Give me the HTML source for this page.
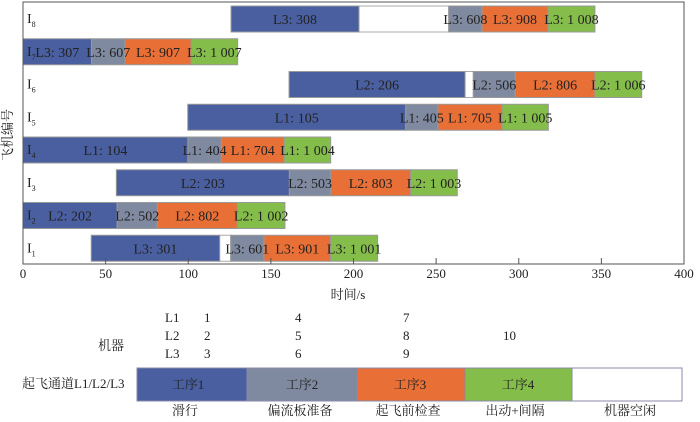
<!DOCTYPE html>
<html><head><meta charset="utf-8"><style>
body{margin:0;background:#fff;width:700px;height:417px;overflow:hidden}
svg text{font-family:"Liberation Serif","Noto Serif CJK SC",serif;fill:#222}
</style></head><body>
<svg id="c" width="700" height="417" font-family="'Liberation Serif','Noto Serif CJK SC',serif"></svg>
<script>
const aircraft=["I1","I2","I3","I4","I5","I6","I7","I8"];
const taxiStart=[41.3,0,56.5,0,99.7,161,0,125.9];
const taxiEnd=[119,57,161.2,99.8,231.6,267.5,41.5,203.3];
const prepStart=[125.7,57,161.2,99.8,231.6,272.5,41.5,257.6];
const prepEnd=[145.8,81.3,186.2,120,251.1,297.9,61.7,277.8];
const checkEnd=[186.2,129.7,234.6,158.1,289.9,346.1,101.7,317.7];
const departEnd=[214.6,158.5,262.8,186.2,317.9,374.4,129.9,346.1];
const taxiLbl=["L3: 301","L2: 202","L2: 203","L1: 104","L1: 105","L2: 206","L3: 307","L3: 308"];
const prepLbl=["L3: 601","L2: 502","L2: 503","L1: 404","L1: 405","L2: 506","L3: 607","L3: 608"];
const checkLbl=["L3: 901","L2: 802","L2: 803","L1: 704","L1: 705","L2: 806","L3: 907","L3: 908"];
const departLbl=["L3: 1 001","L2: 1 002","L2: 1 003","L1: 1 004","L1: 1 005","L2: 1 006","L3: 1 007","L3: 1 008"];
const xTicks=[0,50,100,150,200,250,300,350,400];
const NS="http://www.w3.org/2000/svg",svg=document.getElementById('c');
const X0=23,X1=684,Y0=2,Y1=264;
const xs=v=>X0+(v/400)*(X1-X0);
const rowY=i=>Y1-(i+1)*((Y1-Y0)/8);
function el(t,a,p){const e=document.createElementNS(NS,t);for(const k in a)e.setAttribute(k,a[k]);(p||svg).appendChild(e);return e;}
const cols=["#4a5fa0","#7f8aa0","#e86f36","#84bd4a"];
aircraft.forEach((a,i)=>{
  const y=rowY(i)+4,h=26;
  const segs=[[taxiStart[i],taxiEnd[i],cols[0],taxiLbl[i]],[prepStart[i],prepEnd[i],cols[1],prepLbl[i]],[prepEnd[i],checkEnd[i],cols[2],checkLbl[i]],[checkEnd[i],departEnd[i],cols[3],departLbl[i]]];
  if(prepStart[i]>taxiEnd[i]){
    const r=el('rect',{x:xs(taxiEnd[i]),y:y,width:xs(prepStart[i])-xs(taxiEnd[i]),height:h,fill:"#fff",stroke:"#aaa","stroke-width":1});
    
    
  }
  segs.forEach((s,j)=>{
    const r=el('rect',{x:xs(s[0]),y:y,width:xs(s[1])-xs(s[0]),height:h,fill:s[2],stroke:"#999","stroke-width":1});
    
    
  });
  segs.forEach((s,j)=>{
    const t=el('text',{x:(xs(s[0])+xs(s[1]))/2,y:y+18,"font-size":14,"text-anchor":"middle"});
    t.textContent=s[3];
    
    
  });
  const lt=el('text',{x:27,y:y+17,"font-size":14});
  lt.innerHTML='I<tspan font-size="8" dy="4">'+a.slice(1)+'</tspan>';
  
  
});
const fr=el('rect',{x:X0,y:Y0,width:X1-X0,height:Y1-Y0,fill:"none",stroke:"#555","stroke-width":1});


xTicks.forEach(v=>{
  const l=el('line',{x1:xs(v),x2:xs(v),y1:Y1,y2:Y1-6,stroke:"#555"});
  
  
  const t=el('text',{x:xs(v),y:278,"font-size":13,"text-anchor":"middle"});
  t.textContent=v;
  
  
});
</script>
<svg style="position:absolute;left:0;top:0" width="700" height="417" font-family="'Liberation Serif','Noto Serif CJK SC',serif">
<text x="348" y="299" font-size="13" text-anchor="middle">时间/s</text>
<text transform="translate(12,135) rotate(-90)" font-size="13" text-anchor="middle">飞机编号</text>
<g font-size="13">
<text x="165" y="322">L1</text><text x="204" y="322">1</text><text x="295" y="322">4</text><text x="403" y="322">7</text>
<text x="165" y="340">L2</text><text x="204" y="340">2</text><text x="295" y="340">5</text><text x="403" y="340">8</text><text x="503" y="340">10</text>
<text x="165" y="358">L3</text><text x="204" y="358">3</text><text x="295" y="358">6</text><text x="403" y="358">9</text>
<text x="98" y="350">机器</text>
<text x="22" y="388">起飞通道L1/L2/L3</text>
</g>
<g font-size="13">
<rect x="137" y="368" width="110" height="33" fill="#4a5fa0" stroke="#8a8aa8"/>
<rect x="247" y="368" width="110" height="33" fill="#7f8aa0" stroke="#8a8aa8"/>
<rect x="357" y="368" width="108" height="33" fill="#e86f36" stroke="#8a8aa8"/>
<rect x="465" y="368" width="107" height="33" fill="#84bd4a" stroke="#8a8aa8"/>
<rect x="572" y="368" width="110" height="33" fill="#fff" stroke="#8a8aa8"/>
<text x="188" y="389" text-anchor="middle">工序1</text><text x="302" y="389" text-anchor="middle">工序2</text>
<text x="410" y="389" text-anchor="middle">工序3</text><text x="518" y="389" text-anchor="middle">工序4</text>
<text x="185" y="415" text-anchor="middle">滑行</text><text x="300" y="415" text-anchor="middle">偏流板准备</text>
<text x="408" y="415" text-anchor="middle">起飞前检查</text><text x="515" y="415" text-anchor="middle">出动+间隔</text>
<text x="630" y="415" text-anchor="middle">机器空闲</text>
</g>
</svg>
</body></html>
